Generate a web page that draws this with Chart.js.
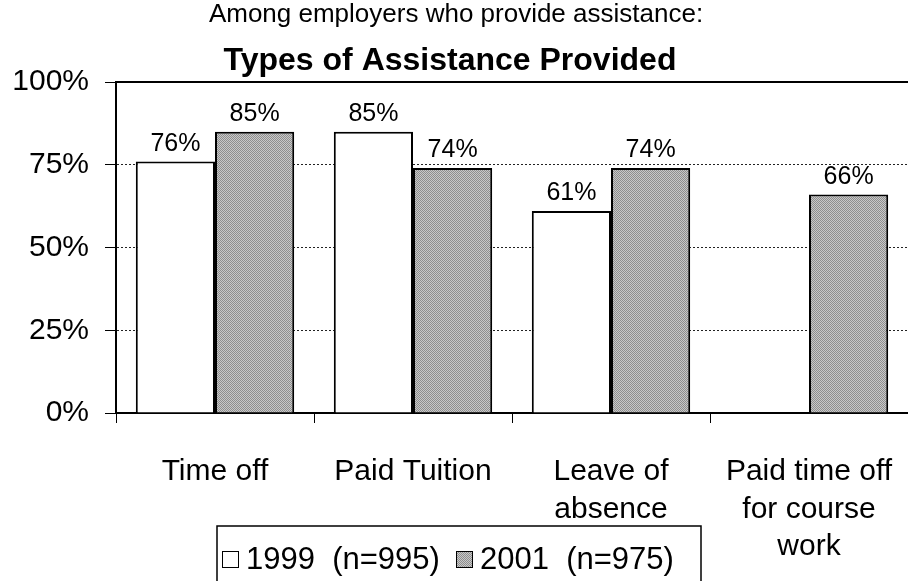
<!DOCTYPE html>
<html>
<head>
<meta charset="utf-8">
<script src="https://cdn.jsdelivr.net/npm/chart.js@4"></script>
<style>
  body { margin: 0; background: #fff; }
  canvas { display: block; }
</style>
</head>
<body>
<canvas id="chart" width="908" height="581"></canvas>
<script>
// chart data
const categories = [
    ["Time off"],
    ["Paid Tuition"],
    ["Leave of", "absence"],
    ["Paid time off", "for course", "work"]
];
const values1999 = [76, 85, 61, null];
const values2001 = [85, 74, 74, 66];
const seriesNames = ["1999  (n=995)", "2001  (n=975)"];
const yTicks = [0, 25, 50, 75, 100];
const subtitleText = "Among employers who provide assistance:";
const titleText = "Types of Assistance Provided";

const FONT = "'Liberation Sans', Arial, sans-serif";

// dithered gray fill like the scanned original
function makeGray() {
    const c = document.createElement("canvas");
    c.width = 2;
    c.height = 2;
    const g = c.getContext("2d");
    g.fillStyle = "#c8c8c8";
    g.fillRect(0, 0, 2, 2);
    g.fillStyle = "#8e8e8e";
    g.fillRect(0, 0, 1, 1);
    g.fillRect(1, 1, 1, 1);
    return g.createPattern(c, "repeat");
}
const gray = makeGray();

// title, data labels, top line and legend
const extras = {
    id: "extras",
    afterDatasetsDraw(chart) {
        const ctx = chart.ctx;
        const area = chart.chartArea;
        const y = chart.scales.y;

        // solid line at 100%
        ctx.save();
        ctx.strokeStyle = "#000";
        ctx.lineWidth = 2;
        ctx.beginPath();
        ctx.moveTo(area.left, y.getPixelForValue(100));
        ctx.lineTo(area.right, y.getPixelForValue(100));
        ctx.stroke();

        // value labels
        ctx.fillStyle = "#000";
        ctx.font = "25px " + FONT;
        ctx.textAlign = "center";
        ctx.textBaseline = "bottom";
        chart.data.datasets.forEach((ds, i) => {
            chart.getDatasetMeta(i).data.forEach((bar, j) => {
                if (ds.data[j] == null) return;
                ctx.fillText(ds.data[j] + "%", bar.x, bar.y - 5);
            });
        });
        ctx.restore();
    },
    afterDraw(chart) {
        const ctx = chart.ctx;
        ctx.save();
        ctx.fillStyle = "#000";
        ctx.textAlign = "center";
        ctx.textBaseline = "alphabetic";
        ctx.font = "26px " + FONT;
        ctx.fillText(subtitleText, 456, 22);
        ctx.font = "bold 32px " + FONT;
        ctx.fillText(titleText, 450, 70);

        // legend box
        ctx.strokeStyle = "#000";
        ctx.lineWidth = 1.5;
        ctx.strokeRect(217, 526, 484, 80);
        ctx.font = "31px " + FONT;
        ctx.textAlign = "left";
        ctx.textBaseline = "middle";
        const xs = [222, 456];
        chart.data.datasets.forEach((ds, i) => {
            ctx.fillStyle = ds.backgroundColor;
            ctx.fillRect(xs[i], 551, 16, 16);
            ctx.strokeStyle = "#000";
            ctx.lineWidth = 1;
            ctx.strokeRect(xs[i] + 0.5, 551.5, 16, 16);
            ctx.fillStyle = "#000";
            ctx.fillText(ds.label, xs[i] + 24, 560);
        });
        ctx.restore();
    }
};

const chart = new Chart(document.getElementById("chart"), {
    type: "bar",
    data: {
        labels: categories,
        datasets: [
            {
                label: seriesNames[0],
                data: values1999,
                backgroundColor: "#ffffff",
                borderColor: "#000",
                borderWidth: 2
            },
            {
                label: seriesNames[1],
                data: values2001,
                backgroundColor: gray,
                borderColor: "#000",
                borderWidth: 2
            }
        ]
    },
    options: {
        responsive: false,
        animation: false,
        layout: { padding: { top: 82, right: 0, left: 0, bottom: 0 } },
        datasets: { bar: { categoryPercentage: 0.8, barPercentage: 1.0 } },
        plugins: {
            legend: { display: false },
            title: { display: false },
            tooltip: { enabled: false }
        },
        scales: {
            x: {
                grid: {
                    display: true,
                    drawOnChartArea: false,
                    drawTicks: true,
                    tickLength: 10,
                    color: "#000",
                    tickColor: "#000",
                    tickWidth: 1
                },
                border: { display: true, color: "#000", width: 2 },
                ticks: {
                    color: "#000",
                    font: { family: FONT, size: 30, lineHeight: 1.25 },
                    padding: 30,
                    maxRotation: 0,
                    autoSkip: false
                },
                afterFit(scale) {
                    scale.height = 168;
                    scale.paddingLeft = 0;
                    scale.paddingRight = 0;
                }
            },
            y: {
                min: 0,
                max: 100,
                afterBuildTicks(scale) {
                    scale.ticks = yTicks.map(v => ({ value: v }));
                },
                grid: {
                    color: ctx => (ctx.tick && ctx.tick.value > 0 && ctx.tick.value < 100) ? "#222" : "rgba(0,0,0,0)",
                    lineWidth: 1,
                    drawTicks: true,
                    tickLength: 11,
                    tickColor: "#000",
                    tickWidth: 1
                },
                border: { display: true, color: "#000", width: 2, dash: [2, 2] },
                ticks: {
                    color: "#000",
                    font: { family: FONT, size: 30 },
                    padding: 16,
                    callback: v => v + "%"
                },
                afterFit(scale) { scale.width = 116; }
            }
        }
    },
    plugins: [extras]
});
</script>
</body>
</html>
